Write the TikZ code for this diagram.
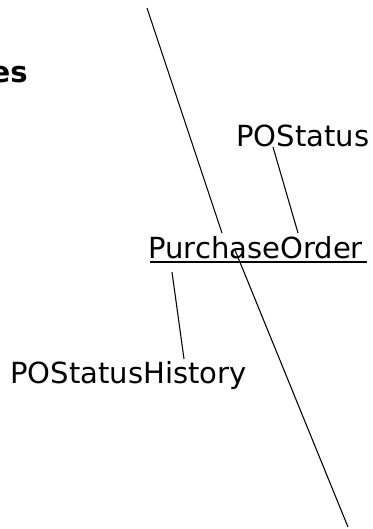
\documentclass[tikz,border=0pt]{standalone}
\usepackage{fontspec}
\setmainfont{DejaVu Sans}
\usetikzlibrary{calc}
\tikzset{
  cls/.style={inner sep=0pt, anchor=base west, font=\fontsize{21.8}{26}\selectfont},
  link/.style={line width=0.8pt}
}
\begin{document}
\begin{tikzpicture}[x=0.75pt, y=-0.75pt]
	\useasboundingbox (0,0) rectangle (373,529);
	% 1. title rest
	\node[inner sep=0pt, anchor=base east, font=\fontsize{21.8}{26}\selectfont\bfseries] (title) at (28,82) {es};
	
	% 2. classes
	\node[cls] (po) at (148,258) {PurchaseOrder};
	\node[cls] (pos) at (236,146) {POStatus};
	\node[cls] (posh) at (10,383) {POStatusHistory};
	\draw[link] ($(po.base west)+(2,4)$) -- ($(po.base east)+(4,4)$);
	
	% 3. end points
	\coordinate (top) at (147,8);
	\coordinate (potop) at (222,233);
	\coordinate (pobot) at (235,250);
	\coordinate (bot) at (348,527);
	\coordinate (posend) at (273,147);
	\coordinate (poa) at (298,233);
	\coordinate (pob) at (172,272);
	\coordinate (poshend) at (184,359);
	
	% 4. lines
	\draw[link] (top) -- (potop);
	\draw[link] (pobot) -- (bot);
	\draw[link] (posend) -- (poa);
	\draw[link] (pob) -- (poshend);
\end{tikzpicture}
\end{document}
